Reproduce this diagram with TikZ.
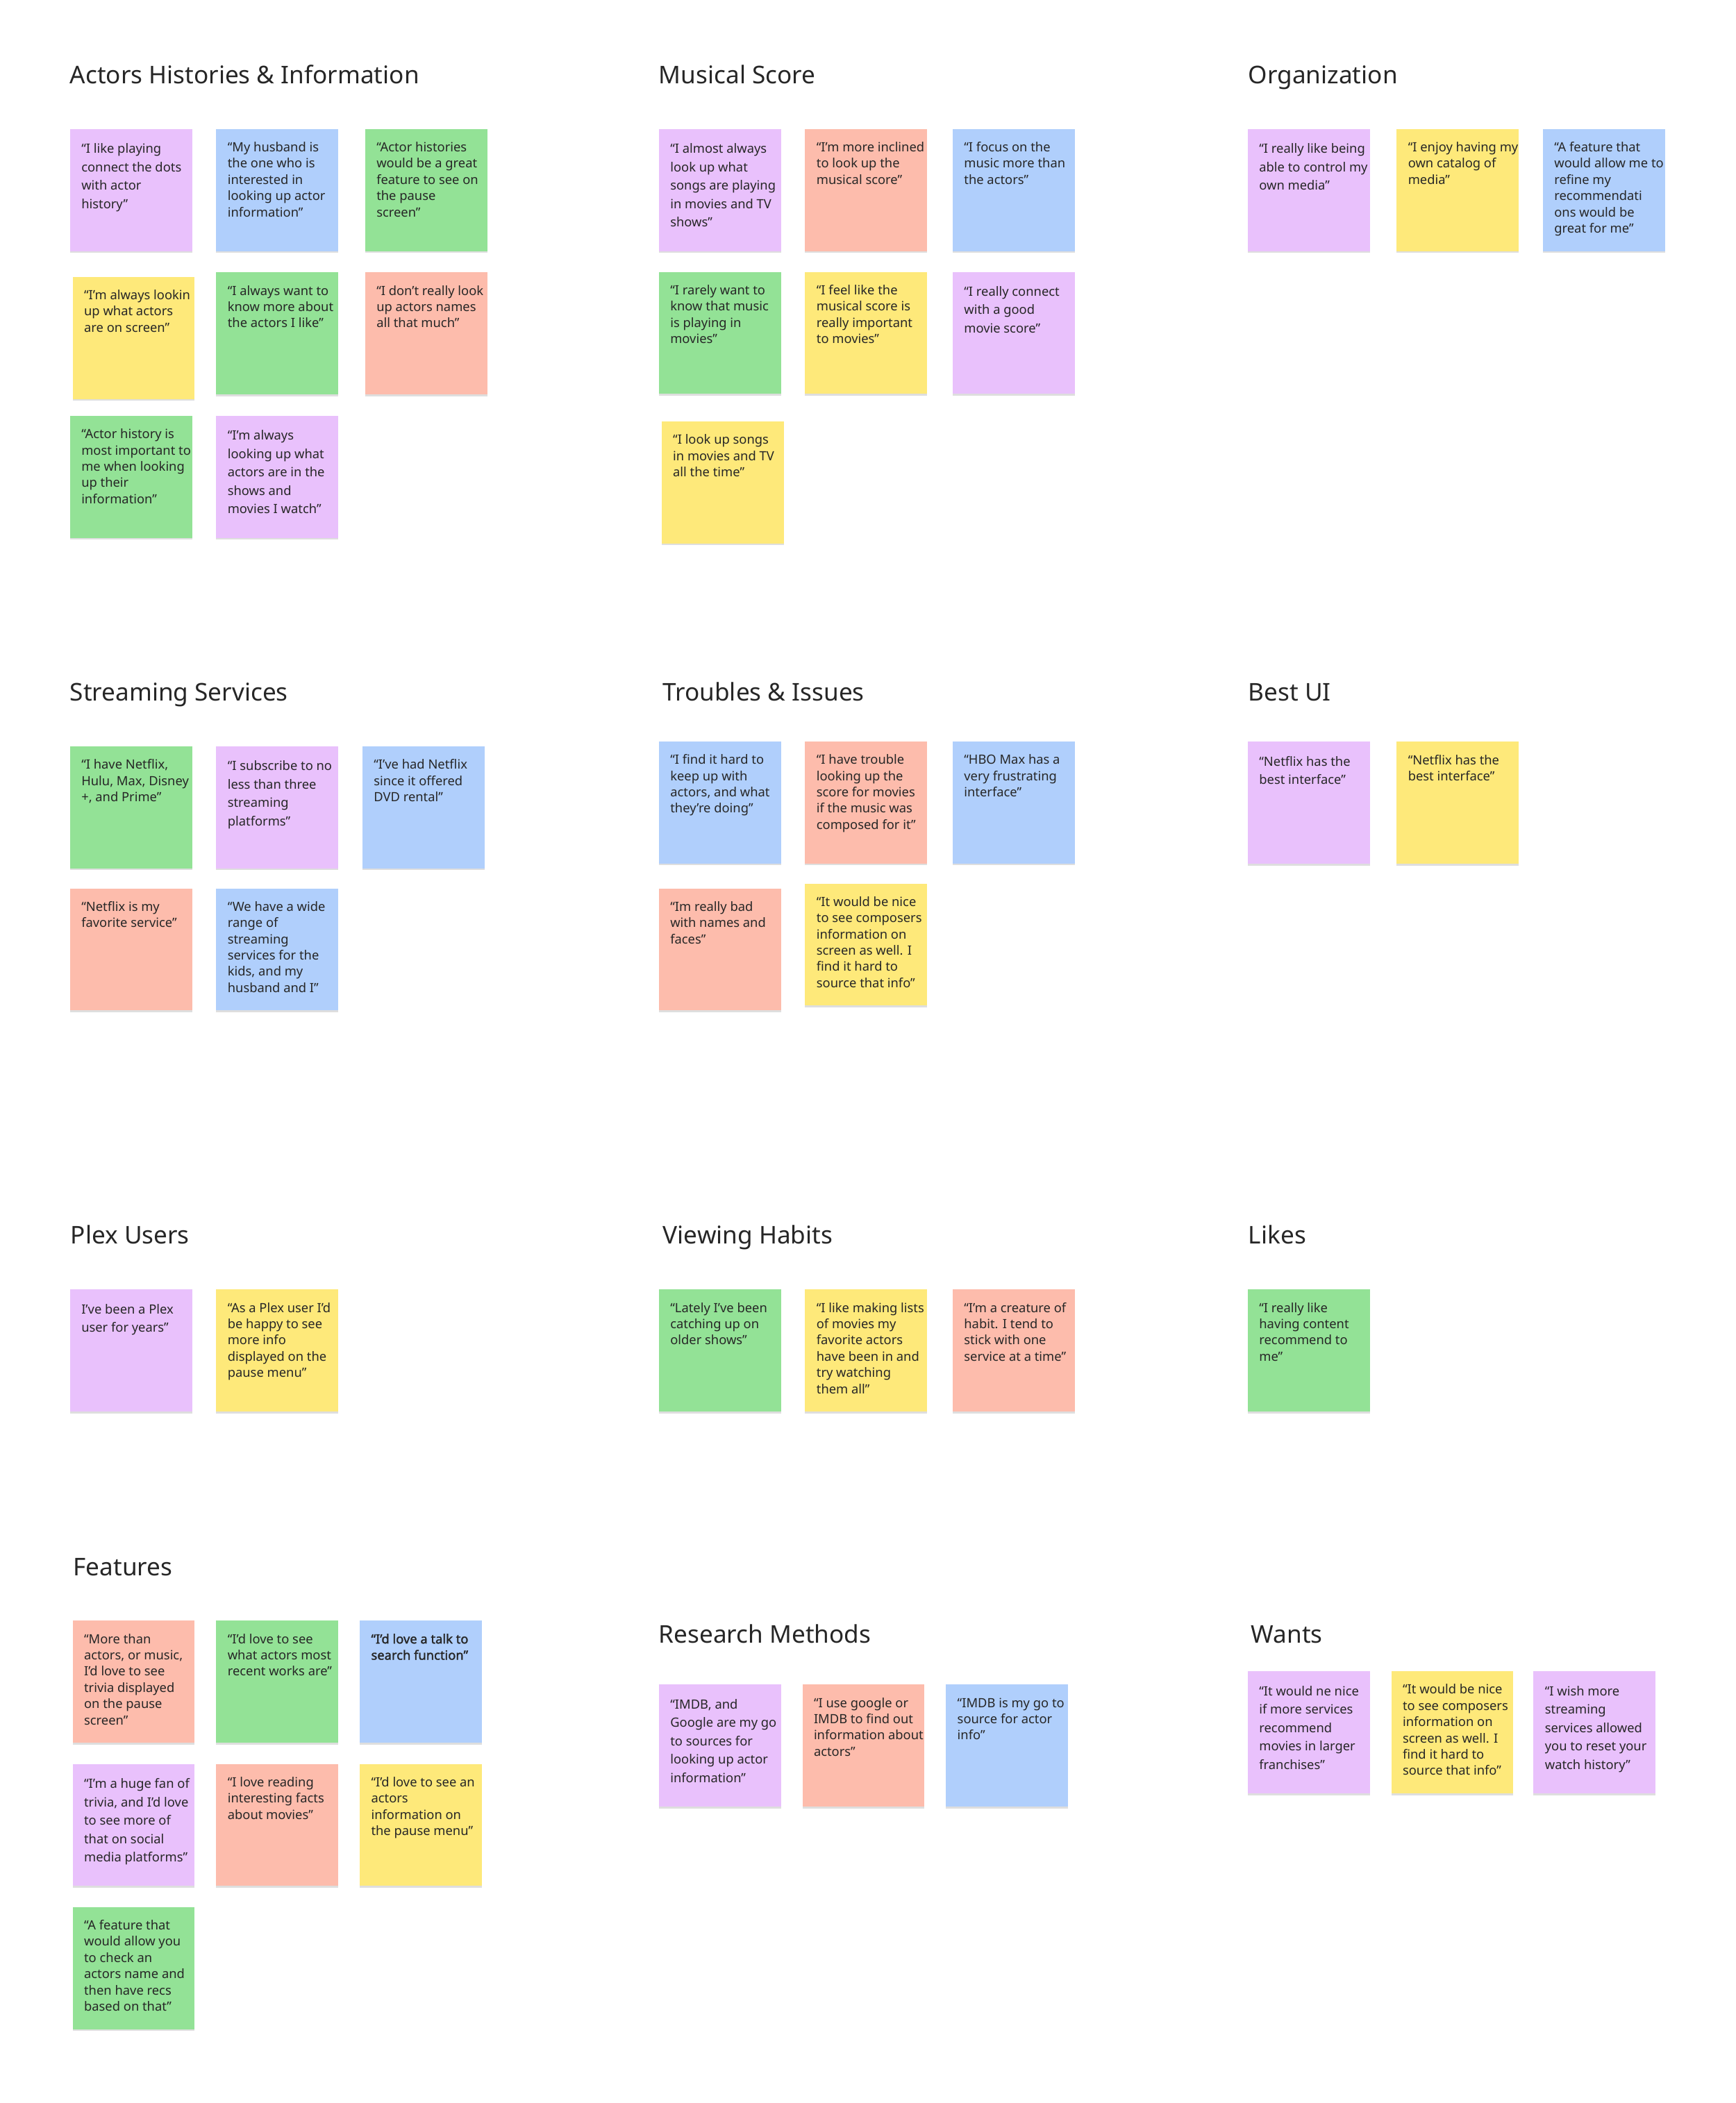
\documentclass[tikz,border=0pt]{standalone}
\usepackage{fontspec}
\setmainfont{Noto Sans}
\newfontfamily\notebold{Noto Sans}[FakeBold=1.6]
\usetikzlibrary{shadows}

\definecolor{notepurple}{RGB}{233,193,252}
\definecolor{noteblue}{RGB}{176,207,252}
\definecolor{notegreen}{RGB}{147,226,150}
\definecolor{noteyellow}{RGB}{254,233,122}
\definecolor{notesalmon}{RGB}{253,188,172}
\definecolor{inkgray}{RGB}{38,38,38}

% one line of the quote per \\, never broken further
\newcommand{\stickytext}[1]{\makebox[74pt][l]{\parbox[c][74pt][t]{200pt}{\raggedright\strut #1}}}

\begin{document}
\begin{tikzpicture}[x=1pt, y=-1pt,
  heading/.style={anchor=base west, inner sep=0pt, text=inkgray,
    font=\fontsize{18.2}{22}\selectfont},
  sticky/.style={anchor=north west, inner sep=8.5pt, fill=#1, text=inkgray,
    font=\fontsize{9.5}{12.1}\selectfont,
    drop shadow={shadow xshift=0pt, shadow yshift=-1.3pt, opacity=0.13, fill=black}},
  loose/.style={font=\fontsize{9.5}{13.7}\selectfont}]

  \useasboundingbox (0,0) rectangle (1294,1568);

  % Actors Histories & Information
  \node[heading] (actT) at (52,62.4) {Actors Histories \& Information};
  \node[sticky=notepurple, loose] (act1) at (52,96) {\stickytext{“I like playing\\connect the dots\\with actor\\history”}};
  \node[sticky=noteblue] (act2) at (161,96) {\stickytext{“My husband is\\the one who is\\interested in\\looking up actor\\information”}};
  \node[sticky=notegreen] (act3) at (272,96) {\stickytext{“Actor histories\\would be a great\\feature to see on\\the pause\\screen”}};
  \node[sticky=noteyellow] (act4) at (54,206.2) {\stickytext{“I’m always lookin\\up what actors\\are on screen”}};
  \node[sticky=notegreen] (act5) at (161,202.9) {\stickytext{“I always want to\\know more about\\the actors I like”}};
  \node[sticky=notesalmon] (act6) at (272,202.9) {\stickytext{“I don’t really look\\up actors names\\all that much”}};
  \node[sticky=notegreen] (act7) at (52,309.9) {\stickytext{“Actor history is\\most important to\\me when looking\\up their\\information”}};
  \node[sticky=notepurple, loose] (act8) at (161,309.9) {\stickytext{“I’m always\\looking up what\\actors are in the\\shows and\\movies I watch”}};

  % Musical Score
  \node[heading] (musT) at (491,62.4) {Musical Score};
  \node[sticky=notepurple, loose] (mus1) at (491,96) {\stickytext{“I almost always\\look up what\\songs are playing\\in movies and TV\\shows”}};
  \node[sticky=notesalmon] (mus2) at (600,96) {\stickytext{“I’m more inclined\\to look up the\\musical score”}};
  \node[sticky=noteblue] (mus3) at (710,96) {\stickytext{“I focus on the\\music more than\\the actors”}};
  \node[sticky=notegreen] (mus4) at (491,202.5) {\stickytext{“I rarely want to\\know that music\\is playing in\\movies”}};
  \node[sticky=noteyellow] (mus5) at (600,202.5) {\stickytext{“I feel like the\\musical score is\\really important\\to movies”}};
  \node[sticky=notepurple, loose] (mus6) at (710,202.5) {\stickytext{“I really connect\\with a good\\movie score”}};
  \node[sticky=noteyellow] (mus7) at (493,314) {\stickytext{“I look up songs\\in movies and TV\\all the time”}};

  % Organization
  \node[heading] (orgT) at (930.5,62.4) {Organization};
  \node[sticky=notepurple, loose] (org1) at (930,96) {\stickytext{“I really like being\\able to control my\\own media”}};
  \node[sticky=noteyellow] (org2) at (1041,96) {\stickytext{“I enjoy having my\\own catalog of\\media”}};
  \node[sticky=noteblue] (org3) at (1150,96) {\stickytext{“A feature that\\would allow me to\\refine my\\recommendati\\ons would be\\great for me”}};

  % Streaming Services
  \node[heading] (strT) at (52,522.5) {Streaming Services};
  \node[sticky=notegreen] (str1) at (52,556.2) {\stickytext{“I have Netflix,\\Hulu, Max, Disney\\+, and Prime”}};
  \node[sticky=notepurple, loose] (str2) at (161,556.2) {\stickytext{“I subscribe to no\\less than three\\streaming\\platforms”}};
  \node[sticky=noteblue] (str3) at (270,556.2) {\stickytext{“I’ve had Netflix\\since it offered\\DVD rental”}};
  \node[sticky=notesalmon] (str4) at (52,662.2) {\stickytext{“Netflix is my\\favorite service”}};
  \node[sticky=noteblue] (str5) at (161,662.2) {\stickytext{“We have a wide\\range of\\streaming\\services for the\\kids, and my\\husband and I”}};

  % Troubles & Issues
  \node[heading] (troT) at (494,522.5) {Troubles \& Issues};
  \node[sticky=noteblue] (tro1) at (491,552.6) {\stickytext{“I find it hard to\\keep up with\\actors, and what\\they’re doing”}};
  \node[sticky=notesalmon] (tro2) at (600,552.6) {\stickytext{“I have trouble\\looking up the\\score for movies\\if the music was\\composed for it”}};
  \node[sticky=noteblue] (tro3) at (710,552.6) {\stickytext{“HBO Max has a\\very frustrating\\interface”}};
  \node[sticky=notesalmon] (tro4) at (491,662.2) {\stickytext{“Im really bad\\with names and\\faces”}};
  \node[sticky=noteyellow] (tro5) at (600,658.6) {\stickytext{“It would be nice\\to see composers\\information on\\screen as well. I\\find it hard to\\source that info”}};

  % Best UI
  \node[heading] (uiT) at (930.5,522.5) {Best UI};
  \node[sticky=notepurple, loose] (ui1) at (930,552.9) {\stickytext{“Netflix has the\\best interface”}};
  \node[sticky=noteyellow] (ui2) at (1041,552.9) {\stickytext{“Netflix has the\\best interface”}};

  % Plex Users
  \node[heading] (plxT) at (52.5,927.3) {Plex Users};
  \node[sticky=notepurple, loose] (plx1) at (52,961.3) {\stickytext{I’ve been a Plex\\user for years”}};
  \node[sticky=noteyellow] (plx2) at (161,961.3) {\stickytext{“As a Plex user I’d\\be happy to see\\more info\\displayed on the\\pause menu”}};

  % Viewing Habits
  \node[heading] (vieT) at (494,927.3) {Viewing Habits};
  \node[sticky=notegreen] (vie1) at (491,961.3) {\stickytext{“Lately I’ve been\\catching up on\\older shows”}};
  \node[sticky=noteyellow] (vie2) at (600,961.3) {\stickytext{“I like making lists\\of movies my\\favorite actors\\have been in and\\try watching\\them all”}};
  \node[sticky=notesalmon] (vie3) at (710,961.3) {\stickytext{“I’m a creature of\\habit. I tend to\\stick with one\\service at a time”}};

  % Likes
  \node[heading] (likT) at (930.5,927.3) {Likes};
  \node[sticky=notegreen] (lik1) at (930,961.3) {\stickytext{“I really like\\having content\\recommend to\\me”}};

  % Features
  \node[heading] (feaT) at (54.5,1174.7) {Features};
  \node[sticky=notesalmon] (fea1) at (54,1208.2) {\stickytext{“More than\\actors, or music,\\I’d love to see\\trivia displayed\\on the pause\\screen”}};
  \node[sticky=notegreen] (fea2) at (161,1208.2) {\stickytext{“I’d love to see\\what actors most\\recent works are”}};
  \node[sticky=noteblue] (fea3) at (268,1208.2) {\stickytext{\notebold “I’d love a talk to\\search function”}};
  \node[sticky=notepurple, loose] (fea4) at (54,1315) {\stickytext{“I’m a huge fan of\\trivia, and I’d love\\to see more of\\that on social\\media platforms”}};
  \node[sticky=notesalmon] (fea5) at (161,1315) {\stickytext{“I love reading\\interesting facts\\about movies”}};
  \node[sticky=noteyellow] (fea6) at (268,1315) {\stickytext{“I’d love to see an\\actors\\information on\\the pause menu”}};
  \node[sticky=notegreen] (fea7) at (54,1421.7) {\stickytext{“A feature that\\would allow you\\to check an\\actors name and\\then have recs\\based on that”}};

  % Research Methods
  \node[heading] (resT) at (491,1224.9) {Research Methods};
  \node[sticky=notepurple, loose] (res1) at (491,1255.8) {\stickytext{“IMDB, and\\Google are my go\\to sources for\\looking up actor\\information”}};
  \node[sticky=notesalmon] (res2) at (598,1255.8) {\stickytext{“I use google or\\IMDB to find out\\information about\\actors”}};
  \node[sticky=noteblue] (res3) at (705,1255.8) {\stickytext{“IMDB is my go to\\source for actor\\info”}};

  % Wants
  \node[heading] (wanT) at (932.5,1224.9) {Wants};
  \node[sticky=notepurple, loose] (wan1) at (930,1245.9) {\stickytext{“It would ne nice\\if more services\\recommend\\movies in larger\\franchises”}};
  \node[sticky=noteyellow] (wan2) at (1037,1245.9) {\stickytext{“It would be nice\\to see composers\\information on\\screen as well. I\\find it hard to\\source that info”}};
  \node[sticky=notepurple, loose] (wan3) at (1143,1245.9) {\stickytext{“I wish more\\streaming\\services allowed\\you to reset your\\watch history”}};

\end{tikzpicture}
\end{document}
